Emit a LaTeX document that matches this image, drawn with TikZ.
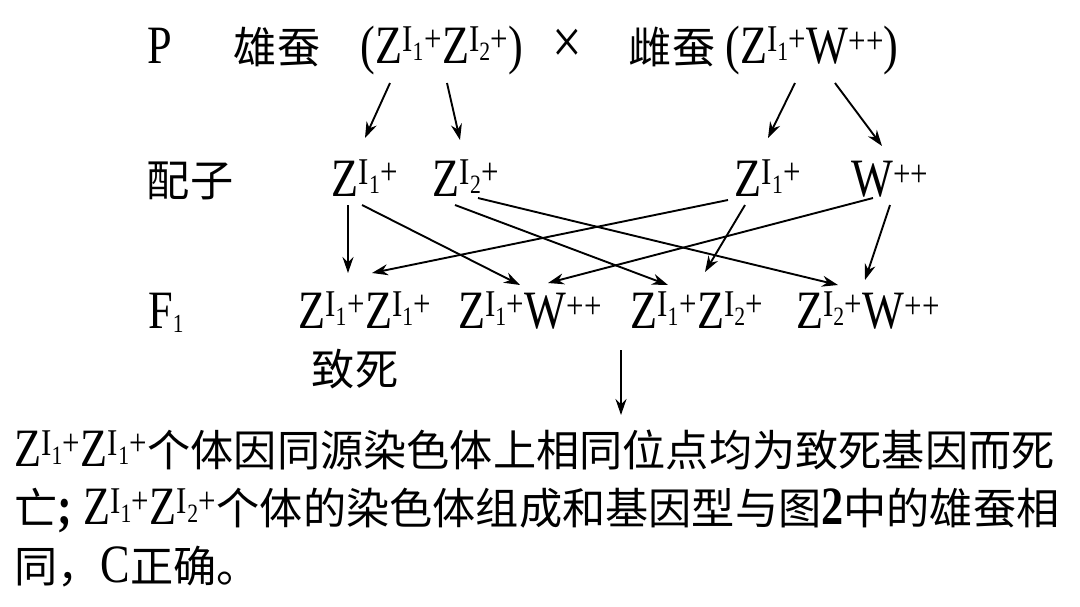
\documentclass[tikz,border=0pt]{standalone}
\usepackage{fontspec}
\setmainfont{Liberation Serif}[FakeStretch=0.82]
\newfontfamily\cjk{Noto Sans CJK SC}[Scale=0.8]
\usetikzlibrary{arrows.meta, positioning, calc}
\newcommand\hz[1]{{\cjk #1}}
\newcommand\gI[1]{\textsuperscript{I\textsubscript{#1}+}}
\newcommand\gW{\textsuperscript{++}}

\begin{document}
\begin{tikzpicture}[
    x=1pt, y=-1pt,
    font=\fontsize{54}{58}\selectfont,
    txt/.style={inner sep=0pt, anchor=base},
    gen/.style={-{Stealth[length=16pt,width=11pt]}, line width=1.9pt}
  ]
  \useasboundingbox (0,0) rectangle (1080,606);

  % parents
  \node[txt] (p) at (160,63) {P};
  \node[txt] (male) at (277,63) {\hz{雄蚕}};
  \node[txt] (pm) at (442,63) {(Z\gI{1}Z\gI{2})};
  \node[txt, font=\fontsize{64}{64}\selectfont] (cross) at (567,63) {×};
  \node[txt] (female) at (672,63) {\hz{雌蚕}};
  \node[txt] (pf) at (812,63) {(Z\gI{1}W\gW)};

  % gametes
  \node[txt] (gam) at (190,196) {\hz{配子}};
  \node[txt] (g1) at (365,196) {Z\gI{1}};
  \node[txt] (g2) at (466,196) {Z\gI{2}};
  \node[txt] (g3) at (768,196) {Z\gI{1}};
  \node[txt] (g4) at (890,196) {W\gW};

  % offspring
  \node[txt] (f) at (166,328) {F\raisebox{-4pt}{\fontsize{26}{26}\selectfont 1}};
  \node[txt] (f1) at (365,328) {Z\gI{1}Z\gI{1}};
  \node[txt] (f2) at (530,328) {Z\gI{1}W\gW};
  \node[txt] (f3) at (697,328) {Z\gI{1}Z\gI{2}};
  \node[txt] (f4) at (868,328) {Z\gI{2}W\gW};
  \node[txt] (dead) at (355,385) {\hz{致死}};

  \node[inner sep=0pt, anchor=north west, align=left] (note) at (14,430)
    {Z\gI{1}Z\gI{1}\hz{个体因同源染色体上相同位点均为致死基因而死}\\
     \hz{亡}\textbf{;} Z\gI{1}Z\gI{2}\hz{个体的染色体组成和基因型与图}\textbf{2}\hz{中的雄蚕相}\\
     \hz{同，}C\hz{正确。}};

  \draw[gen] ($(pm.base)+(-52,20)$) -- ($(g1.base)+(0,-58)$);
  \draw[gen] ($(pm.base)+(5,20)$) -- ($(g2.base)+(-6,-56)$);
  \draw[gen] ($(pf.base)+(-17,20)$) -- ($(g3.base)+(0,-58)$);
  \draw[gen] ($(pf.base)+(23,20)$) -- ($(g4.base)+(-8,-50)$);

  \draw[gen] ($(g1.base)+(-17,9)$) -- ($(f1.base)+(-17,-55)$);
  \draw[gen] ($(g1.base)+(-3,9)$) -- ($(f2.base)+(-10,-43)$);
  \draw[gen] ($(g2.base)+(-11,9)$) -- ($(f3.base)+(-29,-43)$);
  \draw[gen] ($(g2.base)+(12,2)$) -- ($(f4.base)+(-30,-43)$);
  \draw[gen] ($(g3.base)+(-40,4)$) -- ($(f1.base)+(7,-55)$);
  \draw[gen] ($(g3.base)+(-23,9)$) -- ($(f3.base)+(8,-56)$);
  \draw[gen] ($(g4.base)+(-17,2)$) -- ($(f2.base)+(18,-45)$);
  \draw[gen] ($(g4.base)+(0,9)$) -- ($(f4.base)+(-3,-48)$);

  \coordinate (drop) at (621,350);
  \draw[gen, shorten >=15pt] (drop) -- (drop |- note.north);
\end{tikzpicture}
\end{document}
